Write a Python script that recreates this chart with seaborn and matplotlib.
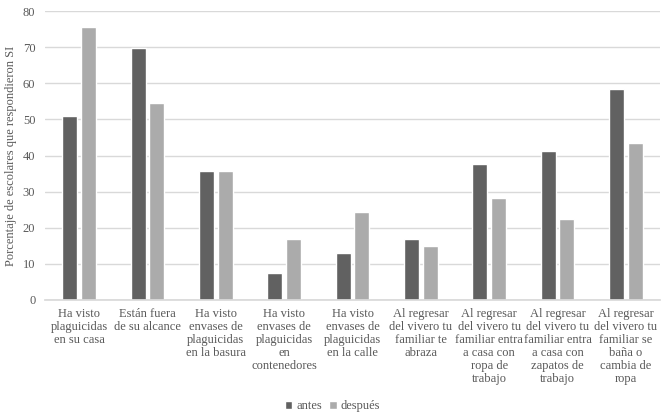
import pandas as pd
import seaborn as sns
from matplotlib import pyplot as plt

categorias = [
    'Ha visto\nplaguicidas\nen su casa',
    'Están fuera\nde su alcance',
    'Ha visto\nenvases de\nplaguicidas\nen la basura',
    'Ha visto\nenvases de\nplaguicidas\nen\ncontenedores',
    'Ha visto\nenvases de\nplaguicidas\nen la calle',
    'Al regresar\ndel vivero tu\nfamiliar te\nabraza',
    'Al regresar\ndel vivero tu\nfamiliar entra\na casa con\nropa de\ntrabajo',
    'Al regresar\ndel vivero tu\nfamiliar entra\na casa con\nzapatos de\ntrabajo',
    'Al regresar\ndel vivero tu\nfamiliar se\nbaña o\ncambia de\nropa',
]
antes = [50.8, 69.8, 35.8, 7.5, 13.1, 16.9, 37.6, 41.3, 58.5]
despues = [75.5, 54.5, 35.8, 16.9, 24.4, 14.9, 28.2, 22.4, 43.4]

df = pd.DataFrame({
    'categoria': categorias * 2,
    'valor': antes + despues,
    'momento': ['antes'] * len(antes) + ['después'] * len(despues),
})

sns.set_theme(style='white')
plt.rcParams['font.family'] = ['Liberation Serif', 'DejaVu Serif']

fig = plt.figure(figsize=(6.65, 4.13), dpi=100)
ax = fig.add_axes([45 / 665, 1 - 300 / 413, 615 / 665, 289 / 413])

sns.barplot(data=df, x='categoria', y='valor', hue='momento',
            palette=['#616161', '#ababab'], width=0.55, gap=0.2,
            saturation=1, ax=ax, legend=True)

ax.set_ylim(0, 80)
ax.set_yticks(range(0, 81, 10))
ax.yaxis.grid(True, color='#d9d9d9', linewidth=1)
ax.set_axisbelow(True)
for s in ['top', 'right', 'left']:
    ax.spines[s].set_visible(False)
ax.spines['bottom'].set_color('#d9d9d9')
ax.tick_params(axis='both', length=0, labelsize=9, colors='#595959')
ax.tick_params(axis='y', pad=7)
ax.tick_params(axis='x', pad=6)
for lab in ax.get_xticklabels():
    lab.set_linespacing(1.1)
ax.set_xlabel('')
ax.set_ylabel('Porcentaje de escolares que respondieron SI', fontsize=9, color='#595959')

handles, labels = ax.get_legend_handles_labels()
ax.get_legend().remove()
fig.legend(handles, labels, loc='lower center', bbox_to_anchor=(0.5, -0.025), ncol=2,
           frameon=False, fontsize=9, handlelength=0.6, handleheight=0.6,
           handletextpad=0.3, columnspacing=0.6, labelcolor='#595959')

fig.savefig('out.png', dpi=100)
